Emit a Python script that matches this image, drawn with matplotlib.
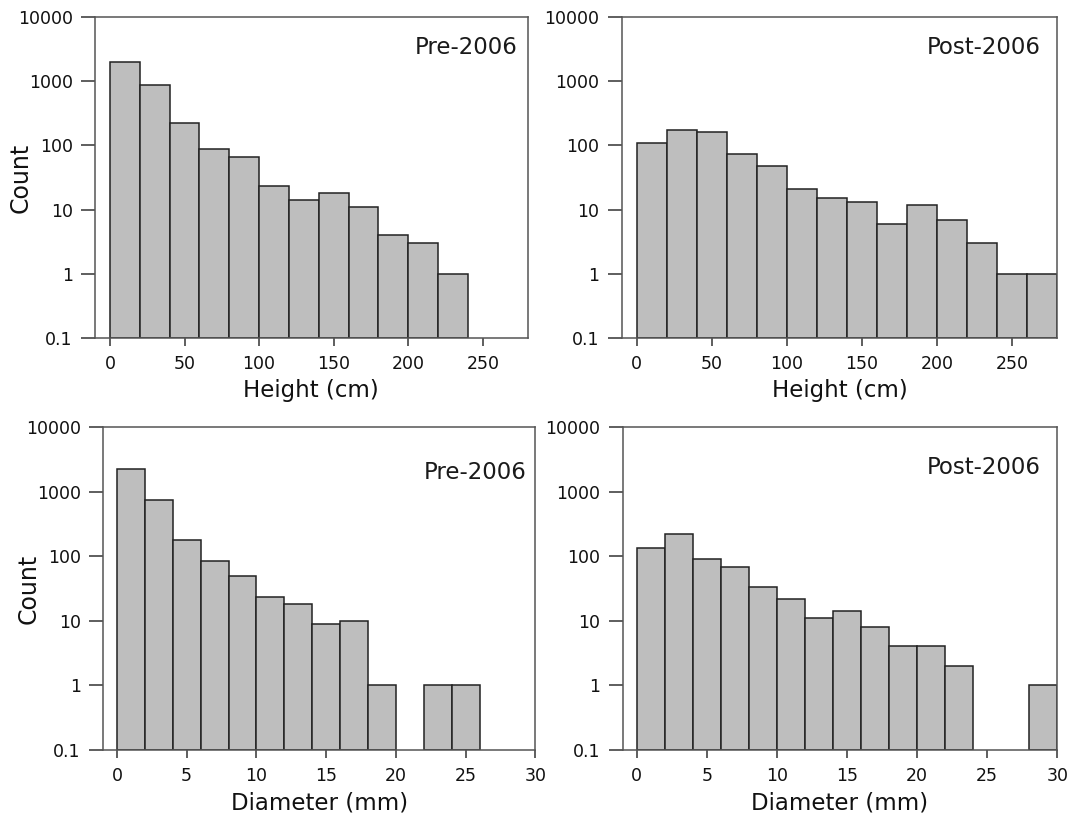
import numpy as np
import matplotlib
matplotlib.use("Agg")
import matplotlib.pyplot as plt

plt.rcParams['font.family'] = ['DejaVu Sans']

# counts per bin
height_edges = np.arange(0, 300, 20)
height_pre = [2000, 880, 227, 89, 65, 23, 14, 18, 11, 4, 3, 1, 0, 0]
height_post = [111, 173, 163, 74, 48, 21, 15, 13, 6, 12, 7, 3, 1, 1]

diam_edges = np.arange(0, 32, 2)
diam_pre = [2200, 750, 178, 85, 50, 23, 18, 9, 10, 1, 0, 1, 1, 0, 0]
diam_post = [133, 224, 92, 69, 33, 22, 11, 14, 8, 4, 4, 2, 0, 0, 1]

yticks = [0.1, 1, 10, 100, 1000, 10000]
ytick_labels = ["0.1", "1", "10", "100", "1000", "10000"]

fig = plt.figure(figsize=(10.68, 8.22), dpi=100)

panels = [
    # rect, edges, counts, xlim, xticks, xlabel, tag, tag_x, tag_y, ylabel
    ([0.089, 0.589, 0.405, 0.390], height_edges, height_pre, (-10, 280),
     [0, 50, 100, 150, 200, 250], "Height (cm)", "Pre-2006", 0.977, 0.905, True),
    ([0.582, 0.589, 0.408, 0.390], height_edges, height_post, (-10, 280),
     [0, 50, 100, 150, 200, 250], "Height (cm)", "Post-2006", 0.961, 0.905, False),
    ([0.0964, 0.0876, 0.405, 0.393], diam_edges, diam_pre, (-1, 30),
     [0, 5, 10, 15, 20, 25, 30], "Diameter (mm)", "Pre-2006", 0.979, 0.86, True),
    ([0.583, 0.0876, 0.407, 0.393], diam_edges, diam_post, (-1, 30),
     [0, 5, 10, 15, 20, 25, 30], "Diameter (mm)", "Post-2006", 0.961, 0.875, False),
]

for rect, edges, counts, xlim, xticks, xlabel, tag, tx, ty, showy in panels:
    ax = fig.add_axes(rect)
    counts = np.array(counts, dtype=float)
    left = edges[:len(counts)]
    width = edges[1] - edges[0]
    keep = counts > 0
    ax.bar(left[keep], counts[keep] - 0.1, width=width, align='edge', bottom=0.1,
           color='#bebebe', edgecolor='#222222', linewidth=1.1)
    ax.set_yscale('log')
    ax.set_ylim(0.1, 10000)
    ax.set_xlim(*xlim)
    ax.set_yticks(yticks)
    ax.set_yticklabels(ytick_labels)
    ax.minorticks_off()
    ax.set_xticks(xticks)
    ax.tick_params(axis='both', labelsize=12.5, width=1.1, color='#333333',
                   direction='out', labelcolor='#111111')
    ax.tick_params(axis='y', length=10, pad=6)
    ax.tick_params(axis='x', length=6, pad=6)
    for s in ax.spines.values():
        s.set_color('#555555')
        s.set_linewidth(1.1)
    ax.set_xlabel(xlabel, fontsize=16.5, labelpad=5, color='#111111')
    if showy:
        ax.set_ylabel("Count", fontsize=17, va='center', color='#111111')
        ax.yaxis.set_label_coords(-0.173, 0.5)
    ax.text(tx, ty, tag, transform=ax.transAxes, ha='right', va='center',
            fontsize=16.5, color='#1a1a1a')

fig.savefig("out.png", dpi=100)
